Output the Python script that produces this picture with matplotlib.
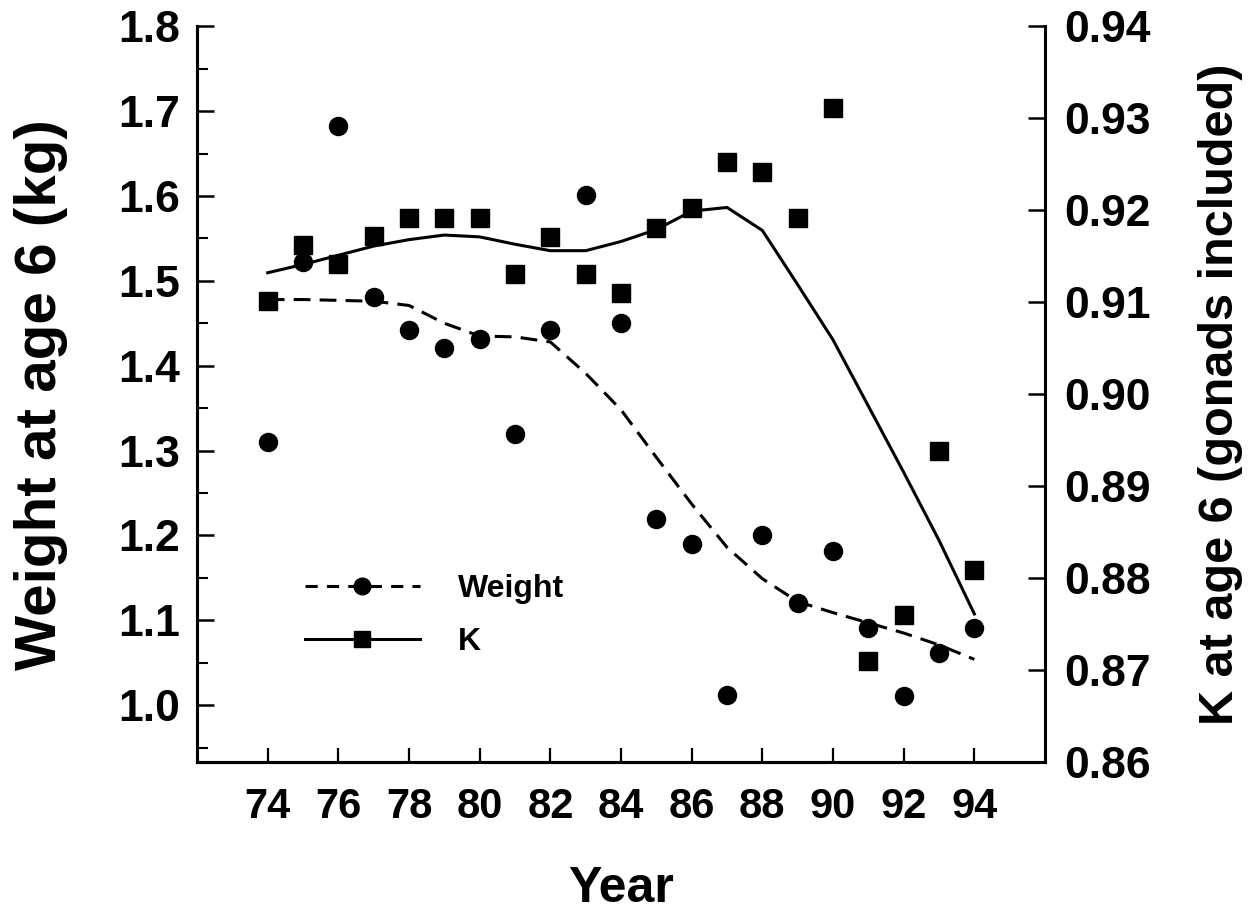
import matplotlib
matplotlib.use("Agg")
import matplotlib.pyplot as plt
from matplotlib import font_manager
from matplotlib.lines import Line2D
from matplotlib.ticker import MultipleLocator, FormatStrFormatter

# data
years = list(range(74, 95))
weight = [1.310, 1.522, 1.682, 1.481, 1.442, 1.421, 1.431, 1.319, 1.442, 1.601, 1.450,
          1.219, 1.190, 1.012, 1.200, 1.120, 1.182, 1.091, 1.011, 1.062, 1.091]
k_cond = [0.9101, 0.9162, 0.9142, 0.9172, 0.9192, 0.9192, 0.9192, 0.9131, 0.9171, 0.9131, 0.9110,
          0.9181, 0.9202, 0.9252, 0.9242, 0.9192, 0.9311, 0.8710, 0.8760, 0.8938, 0.8809]
# smoothed trend lines, read at each year
weight_smooth = [1.478, 1.478, 1.477, 1.476, 1.471, 1.450, 1.435, 1.434, 1.428, 1.391, 1.348,
                 1.292, 1.237, 1.186, 1.149, 1.122, 1.109, 1.097, 1.085, 1.071, 1.054]
k_smooth = [0.9132, 0.9141, 0.9151, 0.9161, 0.9168, 0.9173, 0.9171, 0.9163, 0.9156, 0.9156, 0.9166,
            0.9179, 0.9199, 0.9203, 0.9178, 0.9119, 0.9059, 0.8987, 0.8915, 0.8841, 0.8761]
xticks = list(range(74, 95, 2))

names = {f.name for f in font_manager.fontManager.ttflist}
narrow = 'Liberation Sans Narrow' if 'Liberation Sans Narrow' in names else 'Liberation Sans'
plt.rcParams['font.family'] = ['Liberation Sans', 'DejaVu Sans']
plt.rcParams['font.weight'] = 'bold'

fig = plt.figure(figsize=(12.55, 9.22), dpi=100)
ax = fig.add_axes([0.157, 0.1735, 0.6757, 0.798])
ax2 = ax.twinx()

dash = (0, (5.5, 3))
ax.plot(years, weight_smooth, color='k', lw=2.2, ls=dash)
ax.plot(years, weight, 'o', color='k', ms=13, ls='none')
ax2.plot(years, k_smooth, color='k', lw=2.2)
ax2.plot(years, k_cond, 's', color='k', ms=12.5, ls='none')

ax.set_xlim(72, 96)
ax.set_ylim(0.933, 1.8)
ax2.set_ylim(0.86, 0.94)

ax.set_xticks(xticks)
ax.set_xticklabels([str(x) for x in xticks], fontsize=30, family=narrow, weight='bold')
ax.yaxis.set_major_locator(MultipleLocator(0.1))
ax.yaxis.set_minor_locator(MultipleLocator(0.05))
ax.yaxis.set_major_formatter(FormatStrFormatter('%.1f'))
ax2.yaxis.set_major_locator(MultipleLocator(0.01))
ax2.yaxis.set_major_formatter(FormatStrFormatter('%.2f'))

for a in (ax, ax2):
    for s in a.spines.values():
        s.set_linewidth(2.2)
    a.spines['top'].set_visible(False)
ax.spines['right'].set_visible(False)

ax.tick_params(axis='x', direction='in', length=10, width=1.6, pad=18)
ax.tick_params(axis='y', which='major', direction='in', length=12, width=1.8, pad=12, labelsize=32)
ax.tick_params(axis='y', which='minor', direction='in', length=8, width=1.5)
ax2.tick_params(axis='y', direction='in', length=12, width=1.8, pad=14, labelsize=32)

ax.set_xlabel('Year', fontsize=36, family=narrow, weight='bold', labelpad=28)
ax.set_ylabel('Weight at age 6 (kg)', fontsize=42, weight='bold', labelpad=36)
ax2.set_ylabel('K at age 6 (gonads included)', fontsize=35, weight='bold', labelpad=34)

handles = [Line2D([], [], color='k', lw=2.2, ls=(0, (4, 3)), marker='o', ms=12),
           Line2D([], [], color='k', lw=2.2, marker='s', ms=12)]
ax.legend(handles, ['Weight', 'K'], loc='upper left', bbox_to_anchor=(0.127, 0.255),
          frameon=False, fontsize=23, numpoints=1, handlelength=3.6, handletextpad=1.2,
          labelspacing=0.7, borderpad=0, borderaxespad=0)

fig.savefig('out.png', dpi=100)
